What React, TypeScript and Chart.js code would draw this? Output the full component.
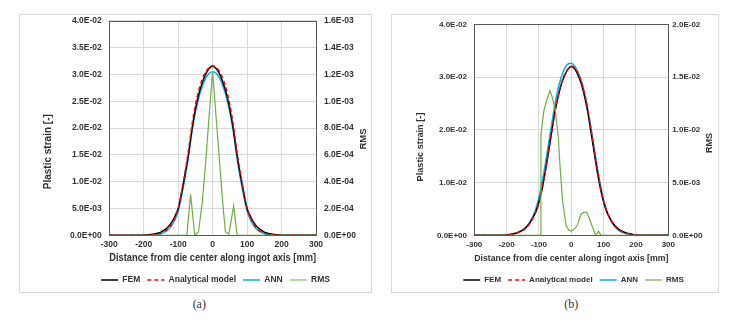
import React, { useEffect, useRef } from "react";
import { Chart, registerables } from "chart.js";

Chart.register(...registerables);

// ---------- DATA ----------
const distance = [
  -300, -210, -200, -190, -180, -170, -160, -150, -140, -130, -120, -110, -100, -90, -80, -70, -60, -50, -40, -30, -20,
  -10, 0, 10, 20, 30, 40, 50, 60, 70, 80, 90, 100, 110, 120, 130, 140, 150, 160, 170, 180, 190, 200, 210, 300,
];

// Panel (a)
const femA = [
  0, 0, 0.00003, 0.00008, 0.00015, 0.00025, 0.0004, 0.0006, 0.001, 0.0015, 0.0023, 0.0035, 0.005, 0.008, 0.0114,
  0.0152, 0.0198, 0.0235, 0.0264, 0.0285, 0.0301, 0.0311, 0.0315, 0.0311, 0.0301, 0.0285, 0.0264, 0.0235, 0.0198,
  0.0152, 0.0114, 0.008, 0.005, 0.0035, 0.0023, 0.0015, 0.001, 0.0006, 0.0004, 0.00025, 0.00015, 0.00008, 0.00003, 0, 0,
];
const analyticalA = [
  0, 0, 0, 0.00002, 0.00005, 0.0001, 0.0002, 0.0004, 0.0007, 0.0012, 0.002, 0.0032, 0.005, 0.0082, 0.0118, 0.0159,
  0.0206, 0.0243, 0.0271, 0.0291, 0.0305, 0.0313, 0.0316, 0.0313, 0.0305, 0.0291, 0.0271, 0.0243, 0.0206, 0.0159,
  0.0118, 0.0082, 0.005, 0.0032, 0.002, 0.0012, 0.0007, 0.0004, 0.0002, 0.0001, 0.00005, 0.00002, 0, 0, 0,
];
const annA = [
  0, 0, 0, 0, 0.00002, 0.00007, 0.00015, 0.0003, 0.0006, 0.001, 0.0017, 0.0028, 0.0045, 0.0074, 0.0108, 0.0147,
  0.0193, 0.0229, 0.0257, 0.0278, 0.0293, 0.0302, 0.0305, 0.0302, 0.0293, 0.0278, 0.0257, 0.0229, 0.0193, 0.0147,
  0.0108, 0.0074, 0.0045, 0.0028, 0.0017, 0.001, 0.0006, 0.0003, 0.00015, 0.00007, 0.00002, 0, 0, 0, 0,
];
const rmsDistanceA = [-300, -75, -64, -52, -41, -30, -20, -10, 0, 10, 20, 30, 37, 47, 61, 71, 300];
const rmsA = [0, 0, 3.05e-4, 0, 2.7e-5, 2.5e-4, 5.5e-4, 9.0e-4, 1.22e-3, 8.8e-4, 5.5e-4, 2.2e-4, 2.7e-5, 1.0e-5, 2.2e-4, 0, 0];

// Panel (b)
const femB = [
  0, 0, 0.00005, 0.00015, 0.0003, 0.00045, 0.0007, 0.001, 0.0015, 0.0022, 0.0032, 0.0044, 0.0063, 0.0089, 0.0122,
  0.016, 0.0198, 0.0236, 0.0265, 0.0288, 0.0304, 0.0315, 0.032, 0.0316, 0.0305, 0.0289, 0.0266, 0.0237, 0.0199,
  0.016, 0.0122, 0.0089, 0.0063, 0.0044, 0.0032, 0.0022, 0.0015, 0.001, 0.0007, 0.00045, 0.0003, 0.00015, 0.00005, 0, 0,
];
const analyticalB = [
  0, 0, 0.00004, 0.00012, 0.00025, 0.0004, 0.0006, 0.0009, 0.0014, 0.0021, 0.0031, 0.0044, 0.0063, 0.0089, 0.0122,
  0.016, 0.0198, 0.0236, 0.0266, 0.029, 0.0306, 0.0316, 0.0321, 0.0318, 0.0308, 0.0293, 0.0271, 0.0242, 0.0205,
  0.0166, 0.0127, 0.0093, 0.0065, 0.0045, 0.0031, 0.0021, 0.0014, 0.0009, 0.0006, 0.0004, 0.00025, 0.00012, 0.00004, 0, 0,
];
const annB = [
  0, 0, 0.00003, 0.0001, 0.0002, 0.0004, 0.0006, 0.001, 0.0015, 0.0023, 0.0034, 0.005, 0.0072, 0.0102, 0.0137,
  0.0175, 0.0213, 0.025, 0.028, 0.0302, 0.0317, 0.0325, 0.0326, 0.0321, 0.031, 0.0294, 0.0272, 0.0243, 0.0206,
  0.0168, 0.013, 0.0095, 0.0067, 0.0046, 0.0031, 0.002, 0.0013, 0.0008, 0.0005, 0.0003, 0.00015, 0.00005, 0, 0, 0,
];
const rmsDistanceB = [-300, -95, -94, -85, -76, -66, -60, -50, -40, -35, -27, -16, -8, 0, 10, 19, 30, 40, 48, 58, 75, 84, 92, 300];
const rmsB = [
  0, 0, 0.0095, 0.0118, 0.0128, 0.0137, 0.0132, 0.012, 0.0092, 0.0066, 0.0033, 0.0009, 0.0005, 0.0004, 0.0006, 0.001,
  0.002, 0.0022, 0.0022, 0.0014, 0, 0.0004, 0, 0,
];

// Ticks
const xTickValues = [-300, -200, -100, 0, 100, 200, 300];
const xTickLabels = ["-300", "-200", "-100", "0", "100", "200", "300"];
const leftTickValuesA = [0, 0.005, 0.01, 0.015, 0.02, 0.025, 0.03, 0.035, 0.04];
const leftTickLabelsA = ["0.0E+00", "5.0E-03", "1.0E-02", "1.5E-02", "2.0E-02", "2.5E-02", "3.0E-02", "3.5E-02", "4.0E-02"];
const rightTickValuesA = [0, 0.0002, 0.0004, 0.0006, 0.0008, 0.001, 0.0012, 0.0014, 0.0016];
const rightTickLabelsA = ["0.0E+00", "2.0E-04", "4.0E-04", "6.0E-04", "8.0E-04", "1.0E-03", "1.2E-03", "1.4E-03", "1.6E-03"];
const leftTickValuesB = [0, 0.01, 0.02, 0.03, 0.04];
const leftTickLabelsB = ["0.0E+00", "1.0E-02", "2.0E-02", "3.0E-02", "4.0E-02"];
const rightTickValuesB = [0, 0.005, 0.01, 0.015, 0.02];
const rightTickLabelsB = ["0.0E+00", "5.0E-03", "1.0E-02", "1.5E-02", "2.0E-02"];

const seriesNames = ["FEM", "Analytical model", "ANN", "RMS"];
const xTitle = "Distance from die center along ingot axis [mm]";
const yTitle = "Plastic strain [-]";
const y2Title = "RMS";

// ---------- STYLE ----------
const FAMILY = "'Liberation Sans', Arial, sans-serif";
const TEXT = "#333333";
const GRID = "#d9d9d9";

const framePlugin = {
  id: "frameAndTitles",
  beforeDatasetsDraw(chart: any) {
    const { ctx, chartArea } = chart;
    const l = Math.round(chartArea.left) + 0.5;
    const t = Math.round(chartArea.top) + 0.5;
    const r = Math.round(chartArea.right) + 0.5;
    const b = Math.round(chartArea.bottom) + 0.5;
    ctx.save();
    ctx.strokeStyle = "#595959";
    ctx.lineWidth = 1;
    ctx.strokeRect(l, t, r - l, b - t);
    ctx.restore();
  },
  afterDraw(chart: any, _args: any, opts: any) {
    const { ctx } = chart;
    const items = [opts.left, opts.right];
    for (const it of items) {
      if (!it) continue;
      ctx.save();
      ctx.translate(it.x, it.y);
      ctx.rotate(-Math.PI / 2);
      ctx.font = `bold ${it.size}px ${FAMILY}`;
      ctx.fillStyle = TEXT;
      ctx.textAlign = "center";
      ctx.textBaseline = "middle";
      ctx.fillText(it.text, 0, 0);
      ctx.restore();
    }
  },
};

type Panel = {
  fem: number[];
  analytical: number[];
  ann: number[];
  rmsX: number[];
  rms: number[];
  leftVals: number[];
  leftLabels: string[];
  rightVals: number[];
  rightLabels: string[];
  leftMax: number;
  rightMax: number;
  canvasLeft: number;
  width: number;
  height: number;
  padTop: number;
  padBottom: number;
  leftW: number;
  rightW: number;
  leftPad: number;
  rightPad: number;
  xH: number;
  xTickPad: number;
  xTitlePadB: number;
  tickSize: number;
  titleSize: number;
  legendSize: number;
  legendPad: number;
  leftTitle: { x: number; y: number; size: number };
  rightTitle: { x: number; y: number; size: number };
};

function pts(xs: number[], ys: number[]) {
  return xs.map((x, i) => ({ x, y: ys[i] }));
}

function legendItems(chart: any) {
  return chart.data.datasets.map((ds: any, i: number) => ({
    text: ds.label,
    datasetIndex: i,
    fillStyle: ds.borderColor,
    strokeStyle: ds.borderColor,
    lineWidth: ds.borderWidth,
    lineDash: ds.borderDash || [],
    lineCap: "butt",
    pointStyle: "line",
    hidden: false,
    fontColor: TEXT,
  }));
}

function buildConfig(p: Panel): any {
  const tickFont = { family: FAMILY, size: p.tickSize, weight: "bold" as const };
  return {
    type: "line",
    data: {
      datasets: [
        {
          label: seriesNames[0],
          data: pts(distance, p.fem),
          borderColor: "#000000",
          backgroundColor: "#000000",
          borderWidth: 1.5,
          pointRadius: 0,
          cubicInterpolationMode: "monotone",
          yAxisID: "y",
          order: 3,
        },
        {
          label: seriesNames[1],
          data: pts(distance, p.analytical),
          borderColor: "#ff0000",
          backgroundColor: "#ff0000",
          borderWidth: 1.5,
          borderDash: [4, 3],
          pointRadius: 0,
          cubicInterpolationMode: "monotone",
          yAxisID: "y",
          order: 2,
        },
        {
          label: seriesNames[2],
          data: pts(distance, p.ann),
          borderColor: "#00b0f0",
          backgroundColor: "#00b0f0",
          borderWidth: 1.5,
          pointRadius: 0,
          cubicInterpolationMode: "monotone",
          yAxisID: "y",
          order: 4,
        },
        {
          label: seriesNames[3],
          data: pts(p.rmsX, p.rms),
          borderColor: "#70ad47",
          backgroundColor: "#70ad47",
          borderWidth: 1.2,
          pointRadius: 0,
          tension: 0,
          yAxisID: "y2",
          order: 1,
        },
      ],
    },
    options: {
      responsive: false,
      animation: false,
      devicePixelRatio: 1,
      layout: { padding: { left: 0, right: 0, top: p.padTop, bottom: p.padBottom } },
      plugins: {
        tooltip: { enabled: false },
        legend: {
          position: "bottom",
          labels: {
            usePointStyle: true,
            pointStyle: "line",
            pointStyleWidth: 17,
            padding: p.legendPad,
            color: TEXT,
            font: { family: FAMILY, size: p.legendSize, weight: "bold" },
            generateLabels: legendItems,
          },
        },
        frameAndTitles: {
          left: { text: yTitle, ...p.leftTitle },
          right: { text: y2Title, ...p.rightTitle },
        },
      },
      scales: {
        x: {
          type: "linear",
          position: "bottom",
          min: -300,
          max: 300,
          afterBuildTicks: (s: any) => {
            s.ticks = xTickValues.map((v) => ({ value: v }));
          },
          afterFit: (s: any) => {
            s.height = p.xH;
          },
          grid: { color: GRID, drawTicks: false, lineWidth: 1 },
          border: { display: false },
          ticks: {
            autoSkip: false,
            maxRotation: 0,
            padding: p.xTickPad,
            color: TEXT,
            font: tickFont,
            callback: (_v: any, i: number) => xTickLabels[i],
          },
          title: {
            display: true,
            text: xTitle,
            color: TEXT,
            font: { family: FAMILY, size: p.titleSize, weight: "bold", lineHeight: 1.2 },
            padding: { top: 0, bottom: p.xTitlePadB },
          },
        },
        y: {
          type: "linear",
          position: "left",
          min: 0,
          max: p.leftMax,
          afterBuildTicks: (s: any) => {
            s.ticks = p.leftVals.map((v) => ({ value: v }));
          },
          afterFit: (s: any) => {
            s.width = p.leftW;
          },
          grid: { color: GRID, drawTicks: false },
          border: { display: false },
          ticks: {
            autoSkip: false,
            padding: p.leftPad,
            color: TEXT,
            font: tickFont,
            callback: (_v: any, i: number) => p.leftLabels[i],
          },
        },
        y2: {
          type: "linear",
          position: "right",
          min: 0,
          max: p.rightMax,
          afterBuildTicks: (s: any) => {
            s.ticks = p.rightVals.map((v) => ({ value: v }));
          },
          afterFit: (s: any) => {
            s.width = p.rightW;
          },
          grid: { display: false, drawTicks: false },
          border: { display: false },
          ticks: {
            autoSkip: false,
            padding: p.rightPad,
            color: TEXT,
            font: tickFont,
            callback: (_v: any, i: number) => p.rightLabels[i],
          },
        },
      },
    },
    plugins: [framePlugin],
  };
}

const panelA: Panel = {
  fem: femA,
  analytical: analyticalA,
  ann: annA,
  rmsX: rmsDistanceA,
  rms: rmsA,
  leftVals: leftTickValuesA,
  leftLabels: leftTickLabelsA,
  rightVals: rightTickValuesA,
  rightLabels: rightTickLabelsA,
  leftMax: 0.04,
  rightMax: 0.0016,
  canvasLeft: 0,
  width: 431,
  height: 300,
  padTop: 20.7,
  padBottom: 5.75,
  leftW: 109.3,
  rightW: 115,
  leftPad: 7.5,
  rightPad: 8,
  xH: 33.45,
  xTickPad: 4.5,
  xTitlePadB: 4.2,
  tickSize: 8.5,
  titleSize: 10.5,
  legendSize: 8.5,
  legendPad: 7,
  leftTitle: { x: 48.3, y: 151.7, size: 10 },
  rightTitle: { x: 363.3, y: 139, size: 9.5 },
};

const panelB: Panel = {
  fem: femB,
  analytical: analyticalB,
  ann: annB,
  rmsX: rmsDistanceB,
  rms: rmsB,
  leftVals: leftTickValuesB,
  leftLabels: leftTickLabelsB,
  rightVals: rightTickValuesB,
  rightLabels: rightTickLabelsB,
  leftMax: 0.04,
  rightMax: 0.02,
  canvasLeft: 372,
  width: 403,
  height: 300,
  padTop: 24.3,
  padBottom: 6,
  leftW: 102.3,
  rightW: 106.7,
  leftPad: 7.3,
  rightPad: 4,
  xH: 33.7,
  xTickPad: 4.5,
  xTitlePadB: 5.1,
  tickSize: 8,
  titleSize: 9.3,
  legendSize: 8,
  legendPad: 7,
  leftTitle: { x: 48, y: 147, size: 9.2 },
  rightTitle: { x: 338, y: 143, size: 9 },
};

function ChartCanvas({ panel }: { panel: Panel }) {
  const ref = useRef<HTMLCanvasElement>(null);
  useEffect(() => {
    const chart = new Chart(ref.current as HTMLCanvasElement, buildConfig(panel));
    return () => chart.destroy();
  }, [panel]);
  return (
    <canvas
      ref={ref}
      width={panel.width}
      height={panel.height}
      style={{
        position: "absolute",
        left: panel.canvasLeft,
        top: 0,
        width: panel.width,
        height: panel.height,
      }}
    />
  );
}

export default function App() {
  const boxStyle: React.CSSProperties = {
    position: "absolute",
    top: 14,
    height: 279,
    border: "1px solid #d9d9d9",
    boxSizing: "border-box",
    background: "#ffffff",
  };
  const captionStyle: React.CSSProperties = {
    position: "absolute",
    top: 297,
    width: 60,
    textAlign: "center",
    fontFamily: "'Liberation Serif', serif",
    fontSize: 12,
    lineHeight: "14px",
    color: "#333",
  };
  return (
    <div
      style={{
        position: "fixed",
        left: 0,
        top: 0,
        width: 743,
        height: 322,
        overflow: "hidden",
        background: "#ffffff",
      }}
    >
      <div style={{ ...boxStyle, left: 19, width: 353 }} />
      <div style={{ ...boxStyle, left: 391, width: 328 }} />
      <div style={{ ...captionStyle, left: 199.3 - 30 }}>(a)</div>
      <div style={{ ...captionStyle, left: 571.3 - 30 }}>(b)</div>
      <ChartCanvas panel={panelA} />
      <ChartCanvas panel={panelB} />
    </div>
  );
}
